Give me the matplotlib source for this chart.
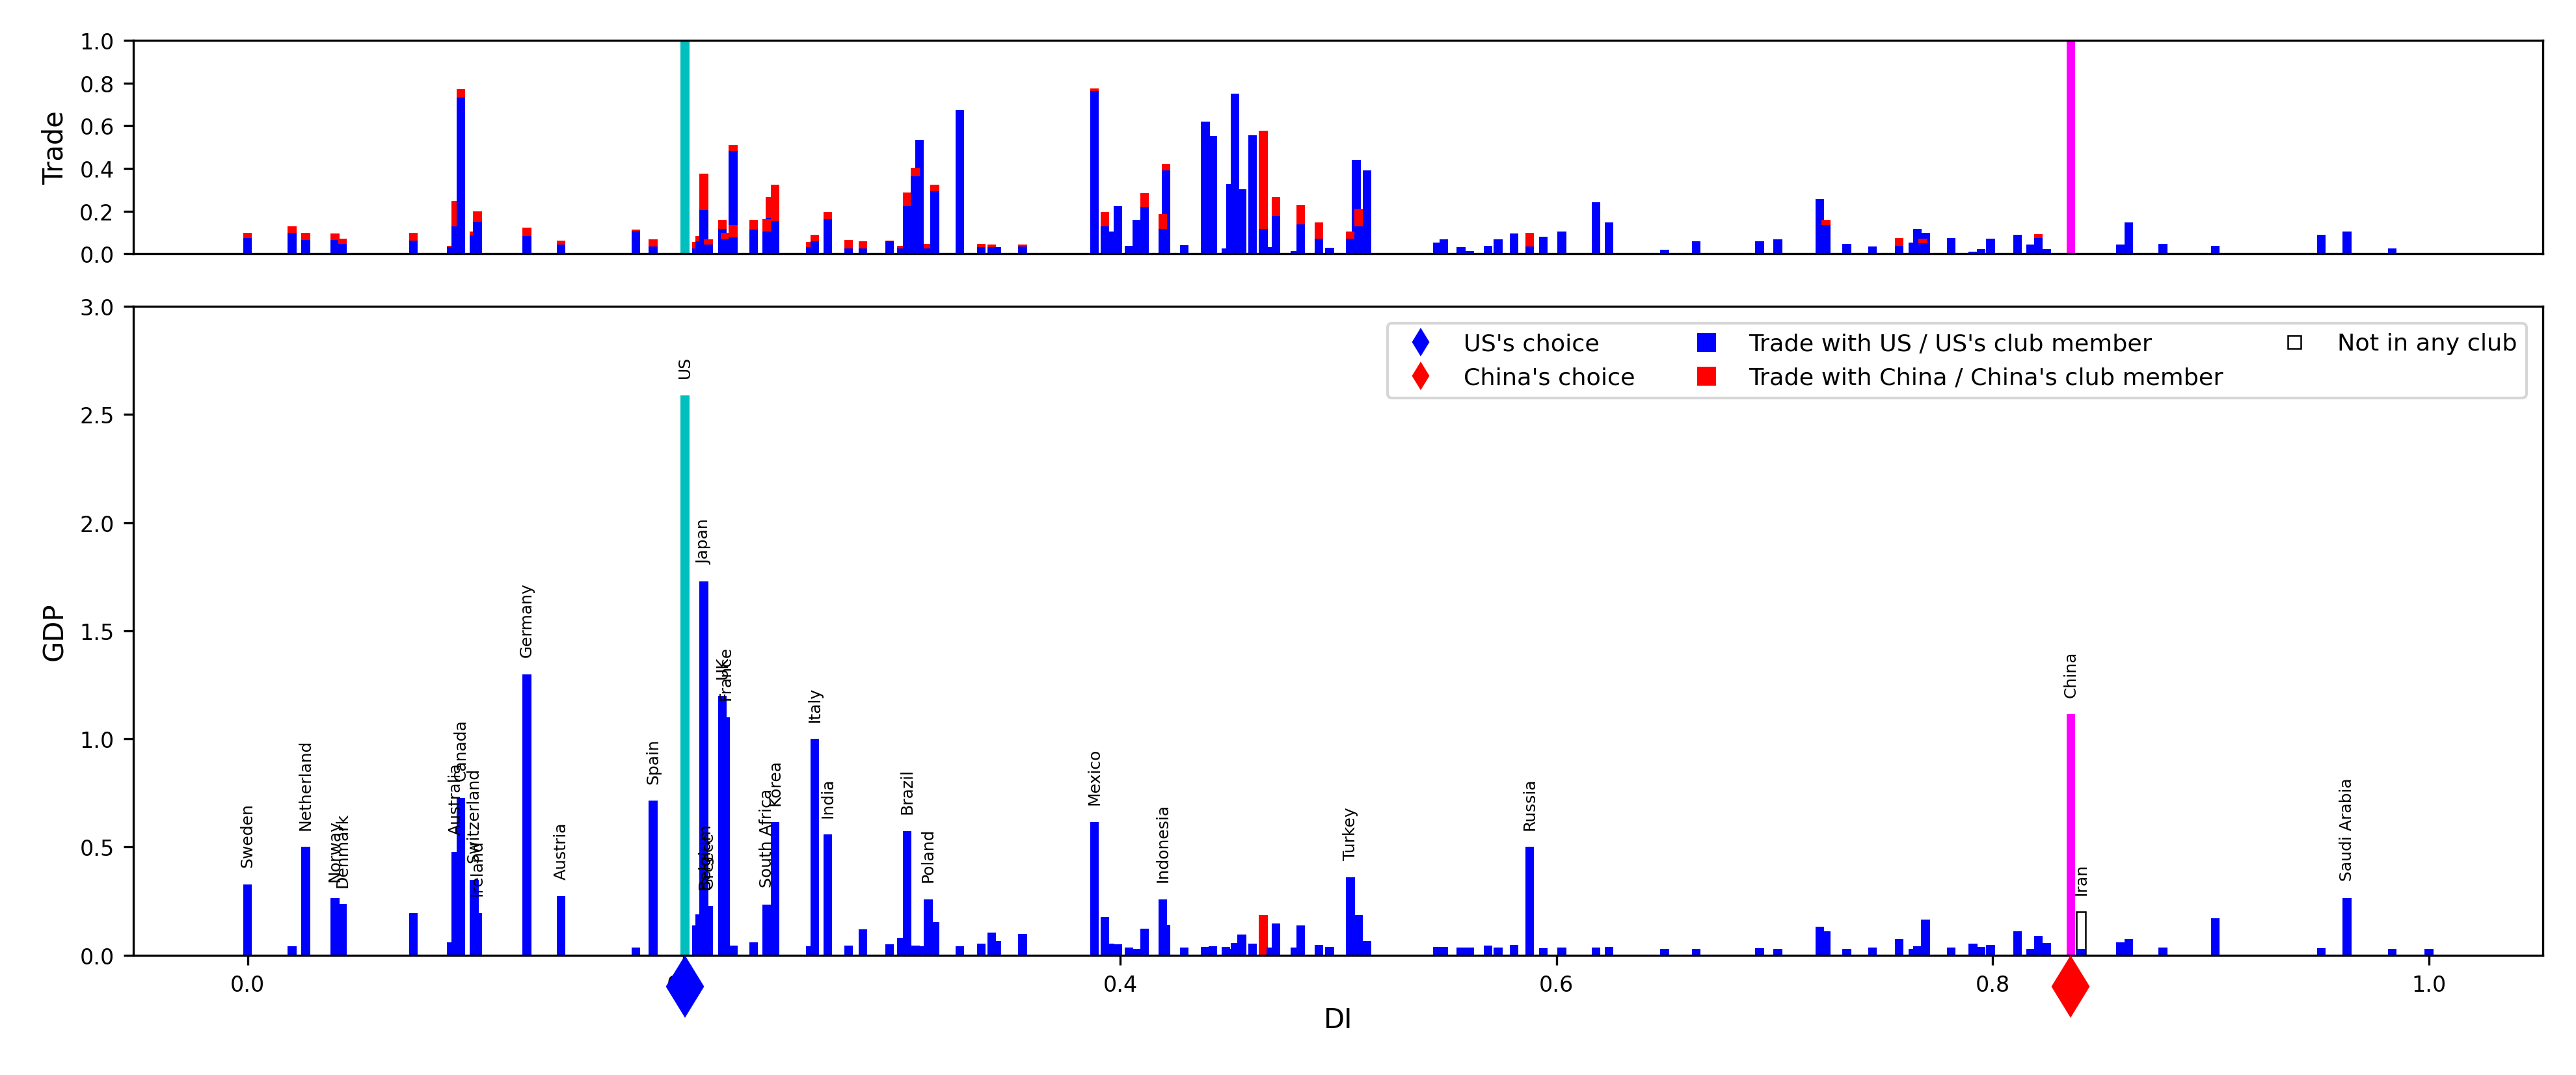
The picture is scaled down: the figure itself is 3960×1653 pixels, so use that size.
import matplotlib
matplotlib.use("Agg")
import matplotlib.pyplot as plt
from matplotlib.lines import Line2D

# ---------------- data (draw order) ----------------
di = [
    0.0000, 0.0203, 0.0266, 0.0400, 0.0435, 0.0760, 0.0933, 0.0954, 0.0977, 0.1038,
    0.1053, 0.1280, 0.1437, 0.1780, 0.1859, 0.2005, 0.2057, 0.2072, 0.2097, 0.2091,
    0.2112, 0.2177, 0.2190, 0.2226, 0.2226, 0.2319, 0.2395, 0.2380, 0.2418, 0.2578,
    0.2599, 0.2660, 0.2755, 0.2821, 0.2943, 0.2996, 0.3023, 0.3080, 0.3061, 0.3120,
    0.3150, 0.3264, 0.3363, 0.3411, 0.3435, 0.3553, 0.3882, 0.3930, 0.3954, 0.3989,
    0.4040, 0.4078, 0.4112, 0.4210, 0.4196, 0.4293, 0.4390, 0.4425, 0.4485, 0.4505,
    0.4527, 0.4557, 0.4606, 0.4656, 0.4690, 0.4715, 0.4800, 0.4827, 0.4911, 0.4960,
    0.5082, 0.5055, 0.5093, 0.5131, 0.5454, 0.5483, 0.5563, 0.5601, 0.5686, 0.5732,
    0.5806, 0.5878, 0.5939, 0.6025, 0.6181, 0.6241, 0.6496, 0.6641, 0.6932, 0.7015,
    0.7207, 0.7236, 0.7331, 0.7449, 0.7572, 0.7635, 0.7655, 0.7692, 0.7680, 0.7810,
    0.7909, 0.7947, 0.7990, 0.8114, 0.8175, 0.8209, 0.8247, 0.8358, 0.8405, 0.8405,
    0.8586, 0.8624, 0.8780, 0.9021, 0.9506, 0.9625, 0.9831, 1.0000,
]

gdp = [
    0.328, 0.042, 0.500, 0.262, 0.236, 0.195, 0.060, 0.478, 0.727, 0.348,
    0.195, 1.298, 0.272, 0.035, 0.714, 2.590, 0.138, 0.189, 0.225, 1.729,
    0.226, 1.200, 1.100, 0.045, 0.030, 0.060, 0.200, 0.234, 0.614, 0.040,
    1.000, 0.557, 0.044, 0.120, 0.050, 0.080, 0.574, 0.040, 0.044, 0.258,
    0.152, 0.042, 0.054, 0.104, 0.064, 0.098, 0.616, 0.176, 0.054, 0.050,
    0.035, 0.029, 0.122, 0.140, 0.258, 0.035, 0.038, 0.042, 0.038, 0.030,
    0.057, 0.094, 0.054, 0.185, 0.035, 0.145, 0.035, 0.136, 0.048, 0.038,
    0.150, 0.360, 0.185, 0.064, 0.038, 0.038, 0.035, 0.035, 0.044, 0.035,
    0.047, 0.500, 0.031, 0.035, 0.035, 0.038, 0.030, 0.030, 0.031, 0.030,
    0.130, 0.110, 0.030, 0.035, 0.075, 0.030, 0.040, 0.165, 0.030, 0.035,
    0.053, 0.039, 0.047, 0.109, 0.030, 0.089, 0.055, 1.114, 0.199, 0.030,
    0.060, 0.074, 0.035, 0.170, 0.031, 0.264, 0.030, 0.030,
]

trade_us = [
    0.074, 0.100, 0.065, 0.065, 0.047, 0.061, 0.030, 0.128, 0.732, 0.086,
    0.151, 0.084, 0.043, 0.108, 0.035, 1.000, 0.025, 0.060, 0.040, 0.206,
    0.043, 0.118, 0.067, 0.483, 0.078, 0.113, 0.168, 0.104, 0.153, 0.030,
    0.060, 0.164, 0.025, 0.025, 0.060, 0.025, 0.225, 0.533, 0.365, 0.025,
    0.295, 0.675, 0.030, 0.030, 0.030, 0.035, 0.762, 0.128, 0.106, 0.225,
    0.037, 0.158, 0.219, 0.391, 0.116, 0.040, 0.621, 0.554, 0.025, 0.327,
    0.750, 0.303, 0.557, 0.118, 0.030, 0.179, 0.013, 0.138, 0.070, 0.028,
    0.441, 0.070, 0.128, 0.390, 0.053, 0.067, 0.030, 0.013, 0.037, 0.067,
    0.096, 0.035, 0.079, 0.106, 0.242, 0.148, 0.020, 0.060, 0.060, 0.067,
    0.257, 0.134, 0.047, 0.035, 0.037, 0.052, 0.116, 0.100, 0.050, 0.075,
    0.010, 0.022, 0.070, 0.088, 0.043, 0.073, 0.022, 1.000, 0.000, 0.004,
    0.043, 0.146, 0.047, 0.037, 0.090, 0.106, 0.025, 0.004,
]

trade_cn = [
    0.025, 0.029, 0.033, 0.029, 0.025, 0.037, 0.007, 0.119, 0.039, 0.018,
    0.049, 0.038, 0.020, 0.005, 0.032, 0.000, 0.030, 0.023, 0.020, 0.171,
    0.024, 0.040, 0.033, 0.026, 0.058, 0.048, 0.098, 0.060, 0.171, 0.025,
    0.030, 0.032, 0.040, 0.033, 0.002, 0.012, 0.063, 0.000, 0.038, 0.023,
    0.029, 0.000, 0.016, 0.013, 0.000, 0.008, 0.012, 0.067, 0.000, 0.000,
    0.000, 0.000, 0.066, 0.030, 0.072, 0.000, 0.000, 0.000, 0.000, 0.000,
    0.000, 0.000, 0.000, 0.460, 0.000, 0.088, 0.000, 0.093, 0.076, 0.000,
    0.000, 0.034, 0.084, 0.000, 0.000, 0.000, 0.000, 0.000, 0.000, 0.000,
    0.000, 0.063, 0.000, 0.000, 0.000, 0.000, 0.000, 0.000, 0.000, 0.000,
    0.000, 0.027, 0.000, 0.000, 0.036, 0.000, 0.000, 0.000, 0.020, 0.000,
    0.000, 0.000, 0.000, 0.000, 0.000, 0.019, 0.000, 0.000, 0.000, 0.000,
    0.000, 0.000, 0.000, 0.000, 0.000, 0.000, 0.000, 0.000,
]

club = ["us"] * len(di)
club[15] = "US"
club[63] = "cn"
club[107] = "CN"
club[108] = "none"

labels = [
    "Sweden", "", "Netherland", "Norway", "Denmark", "", "", "Australia", "Canada", "Switzerland",
    "Ireland", "Germany", "Austria", "", "Spain", "US", "", "", "Belgium", "Japan",
    "Greece", "UK", "France", "", "", "", "", "South Africa", "Korea", "",
    "Italy", "India", "", "", "", "", "Brazil", "", "", "Poland",
    "", "", "", "", "", "", "Mexico", "", "", "",
    "", "", "", "", "Indonesia", "", "", "", "", "",
    "", "", "", "", "", "", "", "", "", "",
    "", "Turkey", "", "", "", "", "", "", "", "",
    "", "Russia", "", "", "", "", "", "", "", "",
    "", "", "", "", "", "", "", "", "", "",
    "", "", "", "", "", "", "", "China", "Iran", "",
    "", "", "", "", "", "Saudi Arabia", "", "",
]

us_choice = 0.2005
china_choice = 0.8358

assert len(di) == len(gdp) == len(trade_us) == len(trade_cn) == len(labels)

# ---------------- style ----------------
BLUE = "#0000ff"
RED = "#ff0000"
CYAN = "#00bfbf"
MAGENTA = "#ff00ff"
W = 0.004

fig = plt.figure(figsize=(13.2, 5.5133), dpi=300)
ax1 = fig.add_axes([0.0517, 0.7634, 0.9355, 0.1984])
ax2 = fig.add_axes([0.0517, 0.1115, 0.9355, 0.6030])

for x, g, tu, tc, c, lab in zip(di, gdp, trade_us, trade_cn, club, labels):
    # top panel: trade
    if c == "US":
        ax1.bar(x, tu, width=W, color=CYAN, linewidth=0)
    elif c == "CN":
        ax1.bar(x, tu, width=W, color=MAGENTA, linewidth=0)
    else:
        ax1.bar(x, tu, width=W, color=BLUE, linewidth=0)
        if tc > 0:
            ax1.bar(x, tc, width=W, bottom=tu, color=RED, linewidth=0)
    # bottom panel: GDP
    if c == "US":
        ax2.bar(x, g, width=W, color=CYAN, linewidth=0)
    elif c == "CN":
        ax2.bar(x, g, width=W, color=MAGENTA, linewidth=0)
    elif c == "cn":
        ax2.bar(x, g, width=W, color=RED, linewidth=0)
    elif c == "none":
        ax2.bar(x, g, width=W, color="white", edgecolor="black", linewidth=0.6)
    else:
        ax2.bar(x, g, width=W, color=BLUE, linewidth=0)
    if lab:
        ax2.text(x, g + 0.08, lab, rotation=90, ha="center", va="bottom", fontsize=6)

# choice markers
ax2.plot([us_choice], [-0.145], marker="d", color=BLUE, ms=15, ls="none", clip_on=False, zorder=5)
ax2.plot([china_choice], [-0.145], marker="d", color=RED, ms=15, ls="none", clip_on=False, zorder=5)

xlim = (-0.0525, 1.0523)
ax1.set_xlim(*xlim)
ax2.set_xlim(*xlim)
ax1.set_ylim(0, 1.0)
ax2.set_ylim(0, 3.0)
ax1.set_yticks([0.0, 0.2, 0.4, 0.6, 0.8, 1.0])
ax2.set_yticks([0.0, 0.5, 1.0, 1.5, 2.0, 2.5, 3.0])
ax2.set_xticks([0.0, 0.2, 0.4, 0.6, 0.8, 1.0])
ax1.tick_params(axis="x", bottom=False, labelbottom=False)
ax1.tick_params(axis="y", labelsize=8)
ax2.tick_params(axis="both", labelsize=8)

ax1.set_ylabel("Trade", fontsize=10)
ax2.set_ylabel("GDP", fontsize=10)
ax2.set_xlabel("DI", fontsize=10)

handles = [
    Line2D([], [], marker="d", color=BLUE, ls="none", ms=6),
    Line2D([], [], marker="d", color=RED, ls="none", ms=6),
    Line2D([], [], marker="s", color=BLUE, ls="none", ms=6),
    Line2D([], [], marker="s", color=RED, ls="none", ms=6),
    Line2D([], [], marker="s", mfc="white", mec="black", ls="none", ms=5, mew=0.6),
]
names = [
    "US's choice",
    "China's choice",
    "Trade with US / US's club member",
    "Trade with China / China's club member",
    "Not in any club",
]
ax2.legend(handles, names, loc="upper right", ncol=3, fontsize=8.75,
           borderaxespad=0.7)

fig.savefig("out.png", dpi=300)
